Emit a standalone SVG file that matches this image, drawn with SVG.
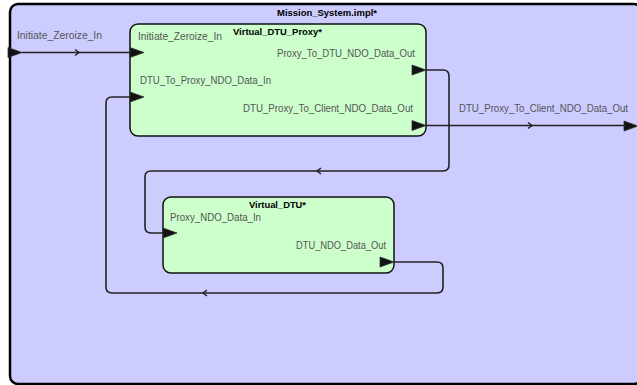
<svg xmlns="http://www.w3.org/2000/svg" width="637" height="385" viewBox="0 0 637 385">
<defs>
<style>
.lbl{font-family:"Liberation Sans",Arial,sans-serif;font-size:10px;fill:#555}
.ttl{font-family:"Liberation Sans",Arial,sans-serif;font-size:9.5px;font-weight:bold;fill:#000}
.box{fill:#ccffcc;stroke:#111;stroke-width:1.5}
.port{fill:#111;stroke:#333;stroke-width:0.8}
.wire{fill:none;stroke:#222;stroke-width:1.6}
.chev{fill:none;stroke:#222;stroke-width:1.4}
</style>
</defs>
<rect width="637" height="385" fill="#fff"/>
<g id="Mission_System">
<rect x="10" y="4" width="632" height="380" rx="8" fill="#ccccff" stroke="#000" stroke-width="2.5"/>
<text class="ttl" x="327" y="16" text-anchor="middle" textLength="100" lengthAdjust="spacingAndGlyphs">Mission_System.impl*</text>
<polygon class="port" points="8,47.5 22,52.5 8,57.5"/>
<text class="lbl" x="17" y="39" textLength="85" lengthAdjust="spacingAndGlyphs">Initiate_Zeroize_In</text>
<polygon class="port" points="624,121 638,126 624,131"/>
<text class="lbl" x="459" y="112" textLength="169" lengthAdjust="spacingAndGlyphs">DTU_Proxy_To_Client_NDO_Data_Out</text>
</g>
<g id="connectors">
<path class="wire" d="M22,52.5 H130"/>
<path class="chev" d="M75,49.5 L79,52.5 L75,55.5"/>
<path class="wire" d="M426,70 H443 Q449,70 449,76 V165 Q449,171 443,171 H151 Q145,171 145,177 V227 Q145,233 151,233 H163"/>
<path class="chev" d="M321,168 L317,171 L321,174"/>
<path class="wire" d="M394,262 H437 Q443,262 443,268 V287 Q443,293 437,293 H112 Q106,293 106,287 V103 Q106,97 112,97 H130"/>
<path class="chev" d="M207,290 L203,293 L207,296"/>
<path class="wire" d="M426,125.5 H626"/>
<path class="chev" d="M528,122.5 L532,125.5 L528,128.5"/>
</g>
<g id="Virtual_DTU_Proxy">
<rect class="box" x="130" y="24" width="296" height="112" rx="8"/>
<text class="ttl" x="233" y="35" textLength="89" lengthAdjust="spacingAndGlyphs">Virtual_DTU_Proxy*</text>
<text class="lbl" x="138" y="40" textLength="84" lengthAdjust="spacingAndGlyphs">Initiate_Zeroize_In</text>
<text class="lbl" x="140" y="84" textLength="131" lengthAdjust="spacingAndGlyphs">DTU_To_Proxy_NDO_Data_In</text>
<text class="lbl" x="277" y="57" textLength="138" lengthAdjust="spacingAndGlyphs">Proxy_To_DTU_NDO_Data_Out</text>
<text class="lbl" x="243" y="112" textLength="170" lengthAdjust="spacingAndGlyphs">DTU_Proxy_To_Client_NDO_Data_Out</text>
<polygon class="port" points="130,47.5 144,52.5 130,57.5"/>
<polygon class="port" points="130,92 144,97 130,102"/>
<polygon class="port" points="412,65 426,70 412,75"/>
<polygon class="port" points="412,120.5 426,125.5 412,130.5"/>
</g>
<g id="Virtual_DTU">
<rect class="box" x="163" y="197" width="231" height="76" rx="8"/>
<text class="ttl" x="249" y="208" textLength="57" lengthAdjust="spacingAndGlyphs">Virtual_DTU*</text>
<text class="lbl" x="170" y="221" textLength="91" lengthAdjust="spacingAndGlyphs">Proxy_NDO_Data_In</text>
<text class="lbl" x="296" y="249" textLength="90" lengthAdjust="spacingAndGlyphs">DTU_NDO_Data_Out</text>
<polygon class="port" points="163,228 177,233 163,238"/>
<polygon class="port" points="380,257 394,262 380,267"/>
</g>
</svg>
